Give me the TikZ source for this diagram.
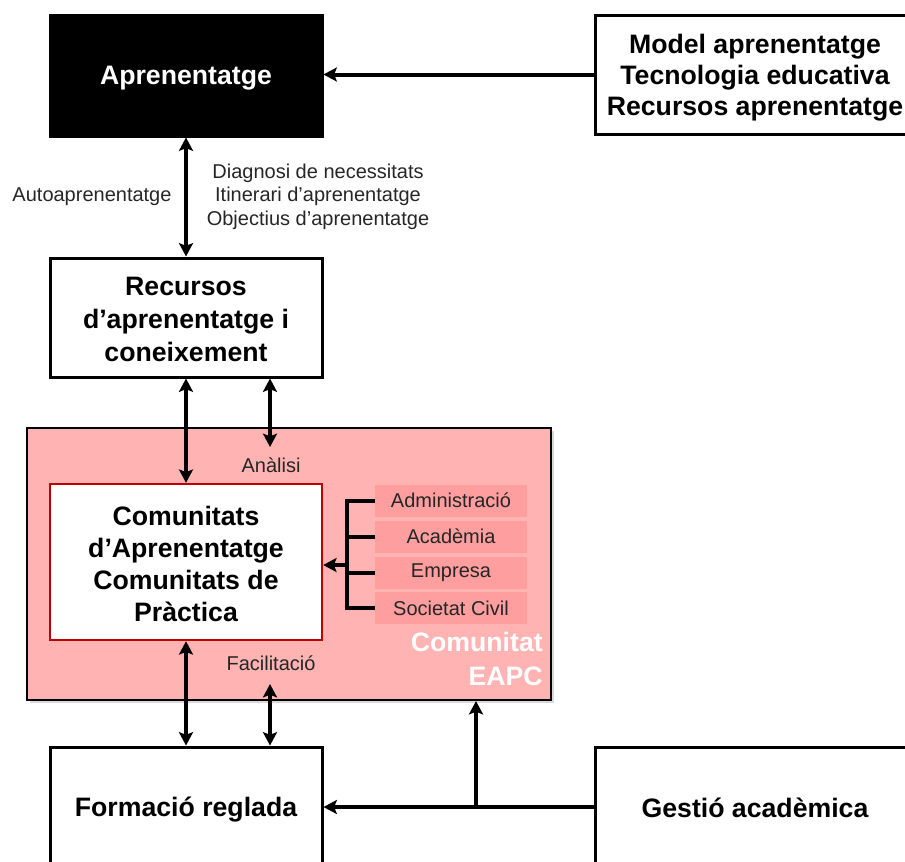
\documentclass[tikz,border=0pt]{standalone}
\usepackage{fontspec}
\setmainfont{Liberation Sans}
\usetikzlibrary{arrows.meta,shadows}
\definecolor{eapcpink}{HTML}{FFB3B3}
\definecolor{memberpink}{HTML}{FF9E9E}
\definecolor{darkred}{HTML}{C00000}
\definecolor{labelgray}{HTML}{262626}
\tikzset{
  box/.style={draw=black, line width=2.25pt, fill=white, inner sep=0pt},
  boxtext/.style={label={[align=center, inner sep=0pt, yshift=-2.25pt,
    font=\fontsize{20}{23.5}\selectfont\bfseries]center:{#1}}},
  darkboxtext/.style={label={[align=center, inner sep=0pt, yshift=-2.25pt, text=white,
    font=\fontsize{20}{23.5}\selectfont\bfseries]center:{#1}}},
  lbl/.style={text=labelgray, align=center, inner sep=0pt,
    font=\fontsize{15}{17.6}\selectfont},
  member/.style={fill=memberpink, draw=none, minimum width=114pt,
    minimum height=24pt, inner sep=0pt, text=labelgray,
    font=\fontsize{15}{17.6}\selectfont},
  conn/.style={line width=3pt, draw=black},
  tip/.tip={Stealth[length=10pt,width=10.5pt,inset=2pt]},
  arr/.style={conn, -tip},
  darr/.style={conn, tip-tip},
}
\begin{document}
\begin{tikzpicture}[x=0.75pt, y=-0.75pt]
\useasboundingbox (0,0) rectangle (905,861);

% top row
\node[box, fill=black, minimum width=204pt, minimum height=90.75pt,
  darkboxtext={Aprenentatge}] (apr) at (186,75.5) {};
\node[box, minimum width=240pt, minimum height=89.25pt,
  boxtext={Model aprenentatge\\Tecnologia educativa\\Recursos aprenentatge}]
  (mod) at (755,74.5) {};

% learning resources
\node[box, minimum width=204pt, minimum height=89.25pt,
  label={[align=center, inner sep=0pt, yshift=-1.5pt,
    font=\fontsize{20}{24.5}\selectfont\bfseries]center:{Recursos\\d’aprenentatge i\\coneixement}}]
  (rec) at (186,317.5) {};

% EAPC community area
\node[draw=black, line width=1.5pt, fill=eapcpink, minimum width=393pt,
  minimum height=204pt, inner sep=0pt,
  drop shadow={shadow xshift=2.5pt, shadow yshift=-2.5pt, opacity=0.3}]
  (pink) at (289,564) {};
\node[box, draw=darkred, line width=1.8pt, minimum width=204pt, minimum height=117pt,
  label={[align=center, inner sep=0pt, yshift=-1.5pt,
    font=\fontsize{20}{24}\selectfont\bfseries]center:{Comunitats\\d’Aprenentatge\\Comunitats de\\Pràctica}}]
  (com) at (186,562) {};

\node[member] (m1) at (451,500.5) {Administració};
\node[member] (m2) at (451,536.5) {Acadèmia};
\node[member] (m3) at (451,572.5) {Empresa};
\node[member] (m4) at (451,608) {Societat Civil};

\node[text=white, align=right, anchor=north east, inner sep=0pt,
  font=\fontsize{20}{25.5}\selectfont\bfseries]
  (eapc) at (543,632) {Comunitat\\EAPC};

% bottom row
\node[box, minimum width=204pt, minimum height=90pt,
  boxtext={Formació reglada}] (form) at (186,807) {};
\node[box, minimum width=240pt, minimum height=90pt,
  label={[inner sep=0pt, yshift=-0.75pt,
    font=\fontsize{20}{23.5}\selectfont\bfseries]center:{Gestió acadèmica}}]
  (ges) at (755,807) {};

% labels
\node[lbl] (auto) at (92,197) {Autoaprenentatge};
\node[lbl] (diag) at (318,196.5) {Diagnosi de necessitats\\Itinerari d’aprenentatge\\Objectius d’aprenentatge};
\node[lbl] (anal) at (271,465) {Anàlisi};
\node[lbl] (facil) at (271,663) {Facilitació};

% helper points
\coordinate (ana) at (270,447);
\coordinate (fac) at (270,684);
\coordinate (bx) at (347,565);
\coordinate (jn) at (476,807);

% connectors
\draw[arr] (mod.west) -- (mod.west -| apr.east);
\draw[darr] (apr.south) -- (rec.north);
\draw[darr] (rec.south) -- (com.north);
\draw[darr] (rec.south -| ana) -- (ana);
\draw[darr] (com.south) -- (form.north);
\draw[darr] (fac) -- (fac |- form.north);
\draw[arr] (ges.west) -- (form.east);
\draw[arr] (jn) -- (jn |- pink.south);

% bracket joining the member groups
\draw[conn] (m1.west) -- (m1.west -| bx) -- (m4.west -| bx) -- (m4.west);
\draw[conn] (m2.west) -- (m2.west -| bx);
\draw[conn] (m3.west) -- (m3.west -| bx);
\draw[arr] (bx) -- (bx -| com.east);
\end{tikzpicture}
\end{document}
